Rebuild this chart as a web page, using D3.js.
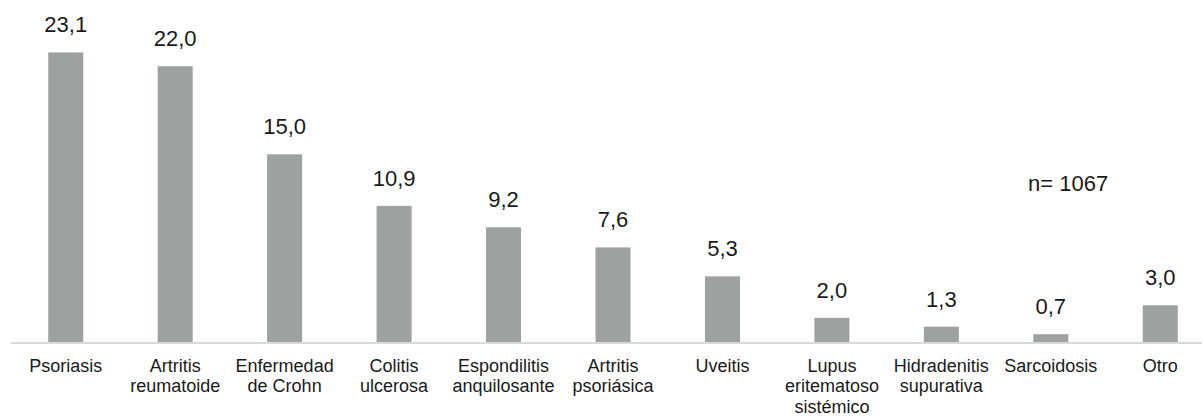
<!DOCTYPE html>
<html>
<head>
<meta charset="utf-8">
<script src="https://cdn.jsdelivr.net/npm/d3@7"></script>
<style>
  html, body { margin: 0; padding: 0; background: #fff; }
  svg { display: block; font-family: "Liberation Sans", Arial, sans-serif; }
</style>
</head>
<body>
<svg id="chart" width="1202" height="416"></svg>
<script>
// Categories (each entry is the wrapped label lines)
const categories = [
  ["Psoriasis"],
  ["Artritis", "reumatoide"],
  ["Enfermedad", "de Crohn"],
  ["Colitis", "ulcerosa"],
  ["Espondilitis", "anquilosante"],
  ["Artritis", "psoriásica"],
  ["Uveitis"],
  ["Lupus", "eritematoso", "sistémico"],
  ["Hidradenitis", "supurativa"],
  ["Sarcoidosis"],
  ["Otro"]
];
const values = [23.1, 22.0, 15.0, 10.9, 9.2, 7.6, 5.3, 2.0, 1.3, 0.7, 3.0];
const valueLabels = ["23,1", "22,0", "15,0", "10,9", "9,2", "7,6", "5,3", "2,0", "1,3", "0,7", "3,0"];
const sampleNote = "n= 1067";

const svg = d3.select("#chart");
const keys = categories.map(c => c.join(" "));

const x = d3.scaleBand()
  .domain(keys)
  .range([11, 1215])
  .paddingInner(0.68)
  .paddingOuter(0.34);

const y = d3.scaleLinear()
  .domain([0, 25])
  .range([343, 28.5]);

// Bars
svg.append("g")
  .selectAll("rect")
  .data(values)
  .join("rect")
  .attr("x", (d, i) => x(keys[i]))
  .attr("y", d => y(d))
  .attr("width", x.bandwidth())
  .attr("height", d => y(0) - y(d))
  .attr("fill", "#9da2a1");

// Baseline axis
const xAxis = d3.axisBottom(x).tickSize(0).tickFormat("");
const axisG = svg.append("g")
  .attr("transform", `translate(0,${y(0)})`)
  .call(xAxis);
axisG.select(".domain")
  .attr("d", "M11,0H1202")
  .attr("stroke", "#d9d9d9")
  .attr("stroke-width", 2);

// Category labels (multi-line)
const labelG = svg.append("g")
  .attr("font-size", 18)
  .attr("fill", "#1a1a1a")
  .attr("text-anchor", "middle");
categories.forEach((lines, i) => {
  const t = labelG.append("text")
    .attr("x", x(keys[i]) + x.bandwidth() / 2)
    .attr("y", 371.5);
  lines.forEach((line, j) => {
    t.append("tspan")
      .attr("x", x(keys[i]) + x.bandwidth() / 2)
      .attr("dy", j === 0 ? 0 : 20.5)
      .text(line);
  });
});

// Value labels above bars
svg.append("g")
  .attr("font-size", 22)
  .attr("fill", "#1a1a1a")
  .attr("text-anchor", "middle")
  .selectAll("text")
  .data(values)
  .join("text")
  .attr("x", (d, i) => x(keys[i]) + x.bandwidth() / 2)
  .attr("y", d => y(d) - 20)
  .text((d, i) => valueLabels[i]);

// Sample size note
svg.append("text")
  .attr("x", 1028)
  .attr("y", 190.5)
  .attr("font-size", 22)
  .attr("fill", "#1a1a1a")
  .text(sampleNote);
</script>
</body>
</html>
